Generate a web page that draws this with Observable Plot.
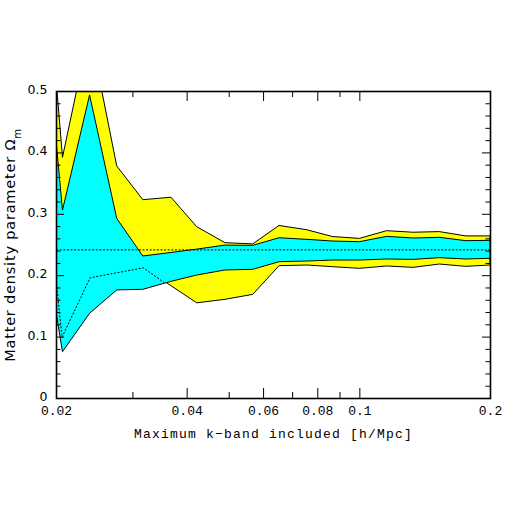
<!DOCTYPE html>
<html>
<head>
<meta charset="utf-8">
<script src="https://cdn.jsdelivr.net/npm/d3@7"></script>
<script src="https://cdn.jsdelivr.net/npm/@observablehq/plot@0.6"></script>
<style>
  html, body { margin: 0; padding: 0; background: white; }
</style>
</head>
<body>
<div id="chart"></div>
<script>
// k-band cutoffs (h/Mpc)
const kValues = [0.02, 0.0207, 0.0239, 0.0276, 0.0317, 0.0368, 0.0422, 0.049, 0.0568, 0.0653, 0.0757, 0.0866, 0.1, 0.1156, 0.133, 0.1528, 0.176, 0.2];
// outer (yellow) band
const yellowHigh = [0.52, 0.392, 0.60, 0.378, 0.323, 0.327, 0.279, 0.253, 0.251, 0.281, 0.274, 0.263, 0.260, 0.2725, 0.270, 0.271, 0.264, 0.264];
const yellowLow  = [0.20, 0.20, 0.20, 0.22, 0.213, 0.183, 0.155, 0.1607, 0.1688, 0.2155, 0.2166, 0.2139, 0.2112, 0.215, 0.2128, 0.2182, 0.2144, 0.2166];
// inner (cyan) band
const cyanHigh = [0.42, 0.306, 0.4935, 0.2926, 0.2313, 0.237, 0.2425, 0.249, 0.2487, 0.261, 0.2584, 0.2557, 0.2546, 0.2633, 0.2606, 0.2617, 0.2562, 0.2568];
const cyanLow  = [0.14, 0.0754, 0.138, 0.176, 0.177, 0.19, 0.2003, 0.2085, 0.2096, 0.222, 0.2231, 0.2247, 0.2247, 0.2264, 0.2258, 0.2285, 0.2264, 0.2275];
// dotted reference value and dotted best-fit trace
const refK = [0.02, 0.2];
const refOmega = [0.242, 0.242];
const fitK = [0.02, 0.0206, 0.0239, 0.0317, 0.0353];
const fitOmega = [0.187, 0.10, 0.1966, 0.2128, 0.1895];
// ticks
const xMajorTicks = [0.02, 0.04, 0.06, 0.08, 0.1, 0.2];
const xTickLabels = ["0.02", "0.04", "0.06", "0.08", "0.1", "0.2"];
const xMinorTicks = [0.03, 0.05, 0.07, 0.09];
const yMajorTicks = [0, 0.1, 0.2, 0.3, 0.4, 0.5];
const yTickLabels = ["0", "0.1", "0.2", "0.3", "0.4", "0.5"];
const yMinorTicks = [0.02, 0.04, 0.06, 0.08, 0.12, 0.14, 0.16, 0.18, 0.22, 0.24, 0.26, 0.28, 0.32, 0.34, 0.36, 0.38, 0.42, 0.44, 0.46, 0.48];
const xTitle = "Maximum k\u2212band included [h/Mpc]";
const yTitle = "Matter density parameter \u03A9";
const yTitleSub = "m";

const W = 518, H = 518, mL = 56, mR = 28, mT = 91, mB = 120;
const pw = W - mL - mR, ph = H - mT - mB;

const bands = kValues.map((k, i) => ({k, yl: yellowLow[i], yh: yellowHigh[i], cl: cyanLow[i], ch: cyanHigh[i]}));
const ref = refK.map((k, i) => ({k, v: refOmega[i]}));
const fit = fitK.map((k, i) => ({k, v: fitOmega[i]}));

const monoFont = "'Liberation Mono', monospace";
const sansFont = "'DejaVu Sans', sans-serif";

const chart = Plot.plot({
  width: W, height: H,
  marginLeft: mL, marginRight: mR, marginTop: mT, marginBottom: mB,
  x: {type: "log", domain: [0.02, 0.2], axis: null},
  y: {domain: [0, 0.5], axis: null},
  style: {background: "white", color: "black"},
  marks: [
    Plot.areaY(bands, {x: "k", y1: "yl", y2: "yh", fill: "#ffff00", stroke: "black", strokeWidth: 1, clip: true}),
    Plot.areaY(bands, {x: "k", y1: "cl", y2: "ch", fill: "#00ffff", stroke: "black", strokeWidth: 1, clip: true}),
    Plot.line(ref, {x: "k", y: "v", stroke: "black", strokeWidth: 1, strokeDasharray: "1.2,2.4", clip: true}),
    Plot.line(fit, {x: "k", y: "v", stroke: "black", strokeWidth: 1, strokeDasharray: "1.2,2.4", clip: true}),
    Plot.frame({stroke: "black", strokeWidth: 1.6}),
    // bottom & top ticks (inward)
    Plot.ruleX(xMajorTicks, {x: d => d, insetTop: ph - 10, stroke: "black", strokeWidth: 1}),
    Plot.ruleX(xMajorTicks, {x: d => d, insetBottom: ph - 10, stroke: "black", strokeWidth: 1}),
    Plot.ruleX(xMinorTicks, {x: d => d, insetTop: ph - 6, stroke: "black", strokeWidth: 1}),
    Plot.ruleX(xMinorTicks, {x: d => d, insetBottom: ph - 6, stroke: "black", strokeWidth: 1}),
    // left & right ticks (inward)
    Plot.ruleY(yMajorTicks, {y: d => d, insetRight: pw - 8, stroke: "black", strokeWidth: 1}),
    Plot.ruleY(yMajorTicks, {y: d => d, insetLeft: pw - 8, stroke: "black", strokeWidth: 1}),
    Plot.ruleY(yMinorTicks, {y: d => d, insetRight: pw - 4.5, stroke: "black", strokeWidth: 1}),
    Plot.ruleY(yMinorTicks, {y: d => d, insetLeft: pw - 4.5, stroke: "black", strokeWidth: 1}),
    // tick labels
    Plot.text(xMajorTicks, {x: d => d, text: (d, i) => xTickLabels[i], frameAnchor: "bottom", dy: 16, fontSize: 13, fontFamily: monoFont, fill: "black"}),
    Plot.text(yMajorTicks, {y: d => d, text: (d, i) => yTickLabels[i], frameAnchor: "left", dx: -9, dy: -1.5, textAnchor: "end", fontSize: 12.5, fontFamily: sansFont, fill: "black"}),
    // axis titles
    Plot.text([xTitle], {text: d => d, frameAnchor: "bottom", dy: 39, textAnchor: "middle", fontSize: 13, fontFamily: monoFont, fill: "black"}),
    Plot.text([yTitle], {text: d => d, frameAnchor: "left", dx: -46, rotate: -90, textAnchor: "middle", fontSize: 14.5, fontFamily: sansFont, fill: "black"})
  ]
});

// x-title letter spacing and Omega subscript
chart.querySelectorAll("text").forEach(t => {
  if (t.textContent === xTitle) t.setAttribute("letter-spacing", "1.2");
  if (t.textContent === yTitle) {
    t.setAttribute("letter-spacing", "0.8");
    const ts = document.createElementNS("http://www.w3.org/2000/svg", "tspan");
    ts.setAttribute("baseline-shift", "sub");
    ts.setAttribute("font-size", "10");
    ts.textContent = yTitleSub;
    t.appendChild(ts);
  }
});

document.getElementById("chart").appendChild(chart);
</script>
</body>
</html>
